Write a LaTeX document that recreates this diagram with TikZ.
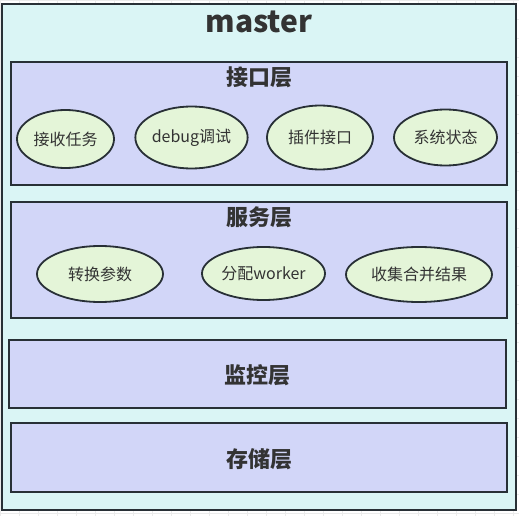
\documentclass[tikz,border=0pt]{standalone}
\usepackage{fontspec}
\setmainfont{Noto Sans CJK SC}
\usepackage{tikz}
\usetikzlibrary{shapes.geometric,positioning}
\definecolor{bgcyan}{RGB}{218,245,245}
\definecolor{layerblue}{RGB}{210,214,248}
\definecolor{ovalgreen}{RGB}{228,245,216}
\definecolor{edgegray}{RGB}{40,48,54}
\definecolor{txtgray}{RGB}{51,51,51}
\tikzset{
  box/.style={draw=edgegray,line width=1.8pt,rectangle,inner sep=0pt},
  layer/.style={box,fill=layerblue},
  oval/.style={draw=edgegray,line width=1.8pt,ellipse,fill=ovalgreen,inner sep=0pt,
    font=\fontsize{16}{18}\selectfont,text=txtgray},
  layertitle/.style={font=\bfseries\fontsize{22}{24}\selectfont,text=txtgray}
}

\begin{document}
\begin{tikzpicture}[x=1pt,y=-1pt]
    \useasboundingbox (0,0) rectangle (519,516);
    \draw[black!8,line width=0.5pt,step=19pt] (0,0) grid (519,516);
    % master
    \node[box,fill=bgcyan,minimum width=514pt,minimum height=506pt] (master) at (259,257) {};
    \node[font=\bfseries\fontsize{30}{32}\selectfont,text=txtgray] (mastertitle) at (259,22) {master};
    % interface layer
    \node[layer,minimum width=496pt,minimum height=123pt] (api) at (259,123.5) {};
    \node[layertitle] (apititle) at (259,77) {接口层};
    \node[oval,minimum width=97pt,minimum height=58pt] (recv) at (65.5,139) {接收任务};
    \node[oval,minimum width=111pt,minimum height=62pt] (debug) at (191.5,137.5) {debug调试};
    \node[oval,minimum width=106pt,minimum height=64pt] (plugin) at (320,137.5) {插件接口};
    \node[oval,minimum width=103pt,minimum height=56pt] (status) at (445.5,137.5) {系统状态};
    % service layer
    \node[layer,minimum width=496pt,minimum height=116pt] (service) at (259,260) {};
    \node[layertitle] (servicetitle) at (259,217) {服务层};
    \node[oval,minimum width=126pt,minimum height=56pt] (convert) at (100,274) {转换参数};
    \node[oval,minimum width=123pt,minimum height=53pt] (assign) at (263.5,273.5) {分配worker};
    \node[oval,minimum width=146pt,minimum height=55pt] (merge) at (419,274.5) {收集合并结果};
    % monitor and storage layers
    \node[layer,minimum width=497pt,minimum height=68pt] (monitor) at (257.5,374) {};
    \node[layertitle] (monitortitle) at (257.5,375) {监控层};
    \node[layer,minimum width=496pt,minimum height=69pt] (storage) at (259,457.5) {};
    \node[layertitle] (storagetitle) at (259,459) {存储层};
\end{tikzpicture}
\end{document}
